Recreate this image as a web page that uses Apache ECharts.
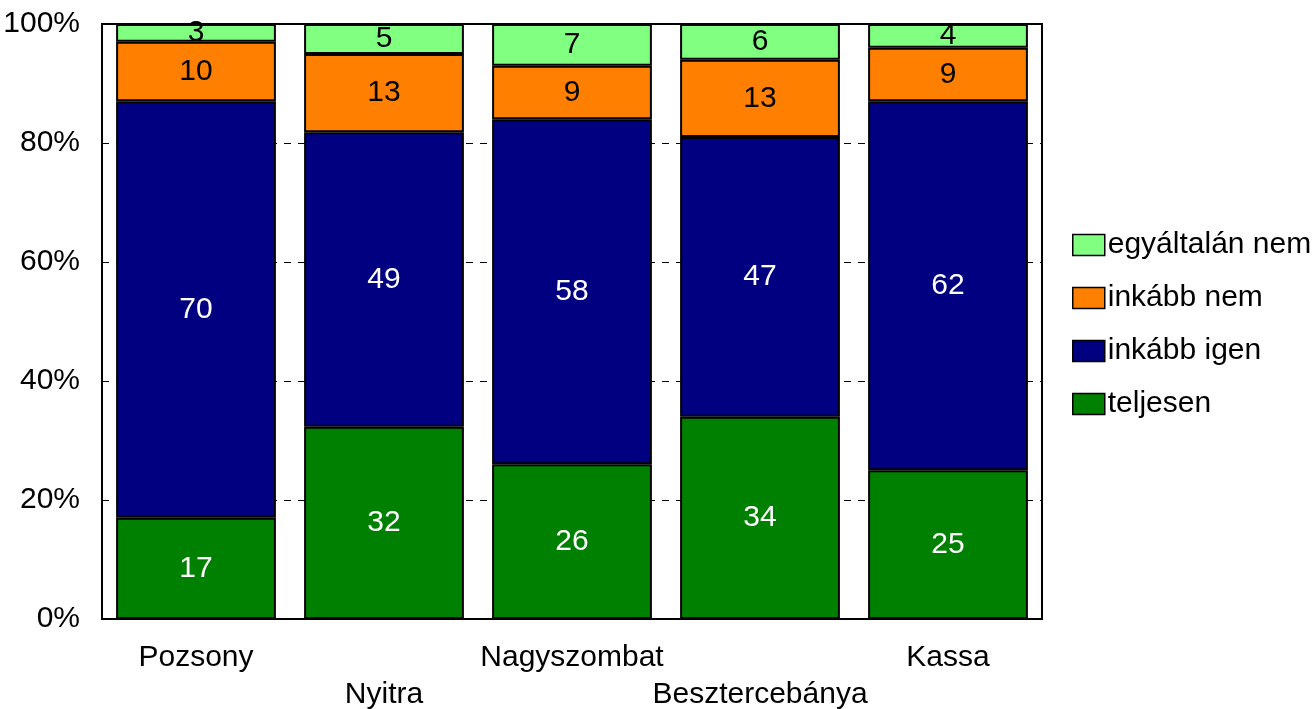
<!DOCTYPE html>
<html><head><meta charset="utf-8">
<script src="https://cdn.jsdelivr.net/npm/echarts@6/dist/echarts.min.js"></script>
<style>html,body{margin:0;padding:0;background:#fff}#c{width:1314px;height:709px}</style>
</head><body><div id="c"></div>
<script>
const categories = ['Pozsony','Nyitra','Nagyszombat','Besztercebánya','Kassa'];
const teljesen = [17, 32, 26, 34, 25];
const inkabbIgen = [70, 49, 58, 47, 62];
const inkabbNem = [10, 13, 9, 13, 9];
const egyaltalanNem = [3, 5, 7, 6, 4];
const yTicks = [0, 20, 40, 60, 80, 100];

const FONT = '"Liberation Sans Narrow","Arial Narrow","Liberation Sans",Arial,sans-serif';
const totals = categories.map((_, i) => teljesen[i] + inkabbIgen[i] + inkabbNem[i] + egyaltalanNem[i]);

function mk(name, arr, color, labelColor) {
  return {
    name, type: 'bar', stack: 's', barWidth: '85%',
    data: arr.map((v, i) => v / totals[i] * 100),
    itemStyle: { color, borderColor: '#000', borderWidth: 2 },
    label: { show: true, position: 'inside', color: labelColor, fontFamily: FONT, fontSize: 30,
      formatter: p => String(arr[p.dataIndex]) },
    emphasis: { disabled: true }, animation: false
  };
}

const chart = echarts.init(document.getElementById('c'));
chart.setOption({
  animation: false,
  grid: { left: 102, right: 272, top: 24, bottom: 90, show: true, borderColor: '#000', borderWidth: 2,
    containLabel: false, outerBoundsMode: 'none' },
  legend: {
    orient: 'vertical', left: 1067, top: 225, itemWidth: 32, itemHeight: 21, itemGap: 23, icon: 'rect',
    data: ['egyáltalán nem', 'inkább nem', 'inkább igen', 'teljesen'],
    textStyle: { fontFamily: FONT, fontSize: 30, color: '#000', padding: [0,0,0,-2] },
    itemStyle: { borderColor: '#000', borderWidth: 1.5 }
  },
  xAxis: {
    type: 'category', data: categories,
    axisLine: { lineStyle: { color: '#000', width: 2 } },
    axisTick: { show: false },
    axisLabel: { interval: 0, fontFamily: FONT, fontSize: 30, color: '#000', margin: 20, lineHeight: 37,
      formatter: (v, i) => (i % 2 ? '\n' + v : v) }
  },
  yAxis: {
    type: 'value', min: yTicks[0], max: yTicks[yTicks.length - 1], interval: 20,
    axisLine: { show: true, lineStyle: { color: '#000', width: 2 } },
    axisTick: { show: false },
    axisLabel: { fontFamily: FONT, fontSize: 30, color: '#000', margin: 22, formatter: '{value}%' },
    splitLine: { show: true, lineStyle: { color: '#000', type: [7, 7], width: 1 } }
  },
  series: [
    mk('teljesen', teljesen, '#008000', '#fff'),
    mk('inkább igen', inkabbIgen, '#000080', '#fff'),
    mk('inkább nem', inkabbNem, '#FF8000', '#000'),
    mk('egyáltalán nem', egyaltalanNem, '#80FF80', '#000')
  ]
});
</script></body></html>
